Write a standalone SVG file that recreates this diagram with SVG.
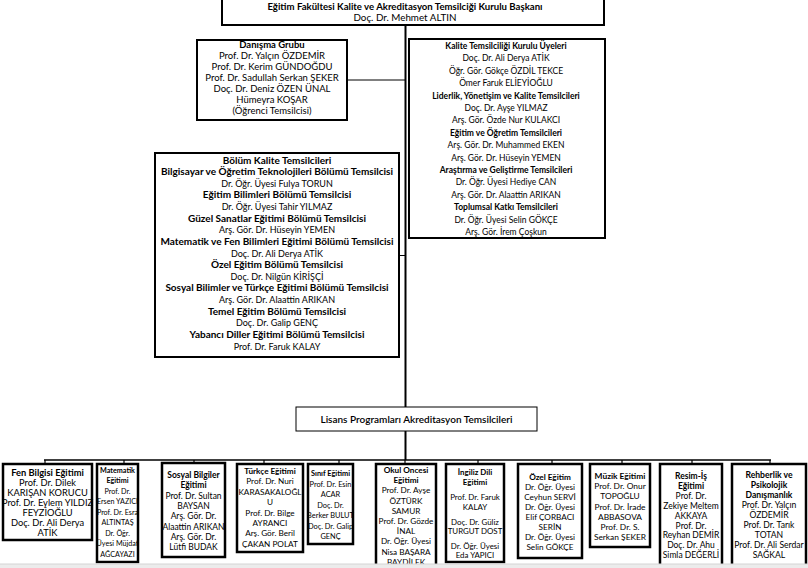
<svg xmlns="http://www.w3.org/2000/svg" width="808" height="568" viewBox="0 0 808 568">
<style>
text { font-family: Lato, "Liberation Sans", sans-serif; fill: #000; text-anchor: middle; }
.b { font-weight: bold; }
.box { fill: #fff; stroke: #000; stroke-width: 2; }
.bx { fill: #fff; stroke: #000; stroke-width: 2.5; }
.thin { fill: #fff; stroke: #000; stroke-width: 1; }
.ln { stroke: #000; fill: none; }
</style>
<rect width="808" height="568" fill="#fff"/>
<g id="connectors">
<line class="ln" x1="405.5" y1="25" x2="405.5" y2="407" stroke-width="2"/>
<line class="ln" x1="347" y1="80" x2="405" y2="80" stroke="#777" stroke-width="1"/>
<line class="ln" x1="399" y1="255.5" x2="405" y2="255.5" stroke-width="1"/>
<line class="ln" x1="405.5" y1="431" x2="405.5" y2="460" stroke-width="2"/>
<line class="ln" x1="44" y1="460" x2="771" y2="460" stroke-width="1.5"/>
<path class="ln" stroke-width="1.2" d="M45 460V464M124 460V464M194 460V464M264 460V464M339 460V464M405 460V464M478 460V464M552 460V464M622 460V464M692 460V464M770 460V464"/>
</g>
<g id="baskan">
<rect class="box" x="222" y="-2" width="382" height="27"/>
<text class="b" font-size="9.6" x="405" y="9.6">Eğitim Fakültesi Kalite ve Akreditasyon Temsilciği Kurulu Başkanı</text>
<text font-size="9.8" x="405" y="21.3">Doç. Dr. Mehmet ALTIN</text>
</g>
<g id="danisma" font-size="9.5">
<rect class="box" x="197" y="40" width="150" height="80"/>
<text class="b" x="272" y="47.5">Danışma Grubu</text>
<text x="272" y="58.5">Prof. Dr. Yalçın ÖZDEMİR</text>
<text x="272" y="69.5">Prof. Dr. Kerim GÜNDOĞDU</text>
<text x="272" y="80.5">Prof. Dr. Sadullah Serkan ŞEKER</text>
<text x="272" y="91.5">Doç. Dr. Deniz ÖZEN ÜNAL</text>
<text x="272" y="102.5">Hümeyra KOŞAR</text>
<text x="272" y="113.5">(Öğrenci Temsilcisi)</text>
</g>
<g id="kalite" font-size="8.5">
<rect class="box" x="409" y="39" width="196" height="199"/>
<text class="b" x="506" y="48.5">Kalite Temsilciliği Kurulu Üyeleri</text>
<text x="506" y="61.3">Doç. Dr. Ali Derya ATİK</text>
<text x="506" y="73.7">Öğr. Gör. Gökçe ÖZDİL TEKCE</text>
<text x="506" y="86.1">Ömer Faruk ELİEYİOĞLU</text>
<text class="b" x="506" y="98.5">Liderlik, Yönetişim ve Kalite Temsilcileri</text>
<text x="506" y="110.9">Doç. Dr. Ayşe YILMAZ</text>
<text x="506" y="123.3">Arş. Gör. Özde Nur KULAKCI</text>
<text class="b" x="506" y="135.7">Eğitim ve Öğretim Temsilcileri</text>
<text x="506" y="148.1">Arş. Gör. Dr. Muhammed EKEN</text>
<text x="506" y="160.5">Arş. Gör. Dr. Hüseyin YEMEN</text>
<text class="b" x="506" y="172.9">Araştırma ve Geliştirme Temsilcileri</text>
<text x="506" y="185.3">Dr. Öğr. Üyesi Hediye CAN</text>
<text x="506" y="197.7">Arş. Gör. Dr. Alaattin ARIKAN</text>
<text class="b" x="506" y="210.1">Toplumsal Katkı Temsilcileri</text>
<text x="506" y="222.5">Dr. Öğr. Üyesi Selin GÖKÇE</text>
<text x="506" y="234.9">Arş. Gör. İrem Çoşkun</text>
</g>
<g id="bolum" font-size="9">
<rect class="box" x="155" y="153" width="244" height="204"/>
<g font-size="10">
<text class="b" x="277" y="163.5">Bölüm Kalite Temsilcileri</text>
<text class="b" x="277" y="175.1">Bilgisayar ve Öğretim Teknolojileri Bölümü Temsilcisi</text>
<text class="b" x="277" y="198.4">Eğitim Bilimleri Bölümü Temsilcisi</text>
<text class="b" x="277" y="221.6">Güzel Sanatlar Eğitimi Bölümü Temsilcisi</text>
<text class="b" x="277" y="244.9">Matematik ve Fen Bilimleri Eğitimi Bölümü Temsilcisi</text>
<text class="b" x="277" y="268.1">Özel Eğitim Bölümü Temsilcisi</text>
<text class="b" x="277" y="291.4">Sosyal Bilimler ve Türkçe Eğitimi Bölümü Temsilcisi</text>
<text class="b" x="277" y="314.6">Temel Eğitim Bölümü Temsilcisi</text>
<text class="b" x="277" y="337.9">Yabancı Diller Eğitimi Bölümü Temsilcisi</text>
</g>
<text x="277" y="186.7">Dr. Öğr. Üyesi Fulya TORUN</text>
<text x="277" y="210">Dr. Öğr. Üyesi Tahir YILMAZ</text>
<text x="277" y="233.2">Arş. Gör. Dr. Hüseyin YEMEN</text>
<text x="277" y="256.5">Doç. Dr. Ali Derya ATİK</text>
<text x="277" y="279.7">Doç. Dr. Nilgün KİRİŞÇİ</text>
<text x="277" y="303">Arş. Gör. Dr. Alaattin ARIKAN</text>
<text x="277" y="326.2">Doç. Dr. Galip GENÇ</text>
<text x="277" y="349.5">Prof. Dr. Faruk KALAY</text>
</g>
<g id="lisans">
<rect class="thin" x="296" y="407" width="241" height="24"/>
<text font-size="10" font-weight="600" x="416.5" y="422.5">Lisans Programları Akreditasyon Temsilcileri</text>
</g>
<g id="fen" font-size="9.3">
<rect class="bx" x="3" y="464" width="89" height="76"/>
<text class="b" x="47.5" y="476.3">Fen Bilgisi Eğitimi</text>
<text x="47.5" y="486.3">Prof. Dr. Dilek</text>
<text x="47.5" y="496.3">KARIŞAN KORUCU</text>
<text x="47.5" y="506.3">Prof. Dr. Eylem YILDIZ</text>
<text x="47.5" y="516.3">FEYZİOĞLU</text>
<text x="47.5" y="526.3">Doç. Dr. Ali Derya</text>
<text x="47.5" y="536.3">ATİK</text>
</g>
<g id="matematik" font-size="7.2">
<rect class="bx" x="97" y="464" width="41" height="98"/>
<text class="b" x="117.5" y="472.7">Matematik</text>
<text class="b" x="117.5" y="483.2">Eğitimi</text>
<text x="117.5" y="493.7">Prof. Dr.</text>
<text x="117.5" y="504.2">Ersen YAZICI</text>
<text x="117.5" y="514.7">Prof. Dr. Esra</text>
<text x="117.5" y="525.2">ALTINTAŞ</text>
<text x="117.5" y="535.7">Dr. Öğr.</text>
<text x="117.5" y="546.2">Üyesi Müjdat</text>
<text x="117.5" y="556.7">AĞCAYAZI</text>
</g>
<g id="sosyal" font-size="8.5">
<rect class="bx" x="162" y="463" width="63" height="94"/>
<text class="b" x="193.5" y="478">Sosyal Bilgiler</text>
<text class="b" x="193.5" y="488.3">Eğitimi</text>
<text x="193.5" y="498.6">Prof. Dr. Sultan</text>
<text x="193.5" y="508.9">BAYSAN</text>
<text x="193.5" y="519.2">Arş. Gör. Dr.</text>
<text x="193.5" y="529.5">Alaattin ARIKAN</text>
<text x="193.5" y="539.8">Arş. Gör. Dr.</text>
<text x="193.5" y="550.1">Lütfi BUDAK</text>
</g>
<g id="turkce" font-size="8.2">
<rect class="bx" x="237" y="464" width="66" height="88"/>
<text class="b" x="270" y="474">Türkçe Eğitimi</text>
<text x="270" y="484.4">Prof. Dr. Nuri</text>
<text x="270" y="494.8">KARASAKALOĞL</text>
<text x="270" y="505.2">U</text>
<text x="270" y="515.6">Prof. Dr. Bilge</text>
<text x="270" y="526">AYRANCI</text>
<text x="270" y="536.4">Arş. Gör. Beril</text>
<text x="270" y="546.8">ÇAKAN POLAT</text>
</g>
<g id="sinif" font-size="7.4">
<rect class="bx" x="308" y="464" width="45" height="80"/>
<text class="b" x="330.5" y="476">Sınıf Eğitimi</text>
<text x="330.5" y="486.5">Prof. Dr. Esin</text>
<text x="330.5" y="497">ACAR</text>
<text x="330.5" y="507.5">Doç. Dr.</text>
<text x="330.5" y="518">Berker BULUT</text>
<text x="330.5" y="528.5">Doç. Dr. Galip</text>
<text x="330.5" y="539">GENÇ</text>
</g>
<g id="okuloncesi" font-size="8.2">
<rect class="bx" x="376" y="464" width="60" height="110"/>
<text class="b" x="406" y="473">Okul Oncesi</text>
<text class="b" x="406" y="483.2">Eğitimi</text>
<text x="406" y="493.4">Prof. Dr. Ayşe</text>
<text x="406" y="503.6">ÖZTÜRK</text>
<text x="406" y="513.8">SAMUR</text>
<text x="406" y="524">Prof. Dr. Gözde</text>
<text x="406" y="534.2">İNAL</text>
<text x="406" y="544.4">Dr. Öğr. Üyesi</text>
<text x="406" y="554.6">Nisa BAŞARA</text>
<text x="406" y="564.8">BAYDİLEK</text>
</g>
<g id="ingiliz" font-size="7.9">
<rect class="bx" x="446" y="464" width="58" height="98"/>
<text class="b" x="475" y="475">İngiliz Dili</text>
<text class="b" x="475" y="485">Eğitimi</text>
<text x="475" y="500">Prof. Dr. Faruk</text>
<text x="475" y="510">KALAY</text>
<text x="475" y="525">Doç. Dr. Güliz</text>
<text x="475" y="534">TURGUT DOST</text>
<text x="475" y="549">Dr. Öğr. Üyesi</text>
<text x="475" y="558">Eda YAPICI</text>
</g>
<g id="ozel" font-size="8.2">
<rect class="bx" x="518" y="464" width="64" height="94"/>
<text class="b" x="550" y="480">Özel Eğitim</text>
<text x="550" y="490">Dr. Öğr. Üyesi</text>
<text x="550" y="500">Ceyhun SERVİ</text>
<text x="550" y="510">Dr. Öğr. Üyesi</text>
<text x="550" y="520">Elif ÇORBACI</text>
<text x="550" y="530">SERİN</text>
<text x="550" y="540">Dr. Öğr. Üyesi</text>
<text x="550" y="550">Selin GÖKÇE</text>
</g>
<g id="muzik" font-size="8.4">
<rect class="bx" x="590" y="464" width="60" height="83"/>
<text class="b" x="620" y="479">Müzik Eğitimi</text>
<text x="620" y="489.2">Prof. Dr. Onur</text>
<text x="620" y="499.4">TOPOĞLU</text>
<text x="620" y="509.6">Prof. Dr. İrade</text>
<text x="620" y="519.8">ABBASOVA</text>
<text x="620" y="530">Prof. Dr. S.</text>
<text x="620" y="540.2">Serkan ŞEKER</text>
</g>
<g id="resim" font-size="8.5">
<rect class="bx" x="660" y="464" width="62" height="110"/>
<text class="b" x="691" y="479">Resim-İş</text>
<text class="b" x="691" y="488.9">Eğitimi</text>
<text x="691" y="498.8">Prof. Dr.</text>
<text x="691" y="508.7">Zekiye Meltem</text>
<text x="691" y="518.6">AKKAYA</text>
<text x="691" y="528.5">Prof. Dr.</text>
<text x="691" y="538.4">Reyhan DEMİR</text>
<text x="691" y="548.3">Doç. Dr. Ahu</text>
<text x="691" y="558.2">Simla DEĞERLİ</text>
</g>
<g id="rehberlik" font-size="8.6">
<rect class="bx" x="732" y="464" width="74" height="110"/>
<text class="b" x="769" y="478">Rehberlik ve</text>
<text class="b" x="769" y="488">Psikolojik</text>
<text class="b" x="769" y="498">Danışmanlık</text>
<text x="769" y="508">Prof. Dr. Yalçın</text>
<text x="769" y="518">ÖZDEMİR</text>
<text x="769" y="528">Prof. Dr. Tarık</text>
<text x="769" y="538">TOTAN</text>
<text x="769" y="548">Prof. Dr. Ali Serdar</text>
<text x="769" y="558">SAĞKAL</text>
</g>
<rect x="0" y="564" width="808" height="4" fill="#ececec"/>
<line x1="0" y1="564" x2="808" y2="564" stroke="#d4d4d4" stroke-width="1"/>
</svg>
